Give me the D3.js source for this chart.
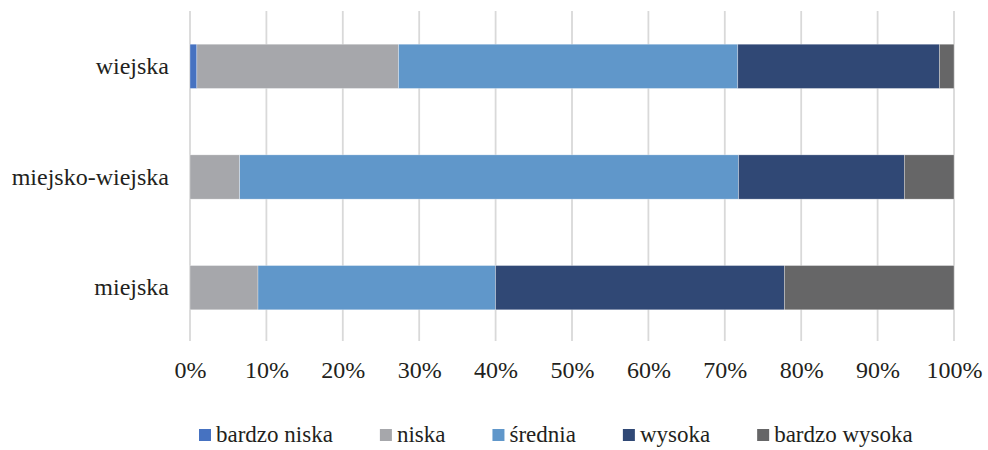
<!DOCTYPE html>
<html>
<head>
<meta charset="utf-8">
<script src="https://cdn.jsdelivr.net/npm/d3@7"></script>
<style>
  body { margin: 0; background: #fff; }
  #chart svg { display: block; font-family: "Liberation Serif", "Times New Roman", serif; }
</style>
</head>
<body>
<div id="chart"></div>
<script>
// categories, top to bottom
const categories = ["wiejska", "miejsko-wiejska", "miejska"];
const seriesNames = ["bardzo niska", "niska", "średnia", "wysoka", "bardzo wysoka"];
const colors = ["#4672C1", "#A6A7AB", "#6097CA", "#304875", "#666667"];

// shares in %, one array per series (same order as categories)
const bardzoNiska = [0.9, 0, 0];
const niska = [26.4, 6.5, 8.9];
const srednia = [44.4, 65.3, 31.1];
const wysoka = [26.4, 21.7, 37.8];
const bardzoWysoka = [1.9, 6.5, 22.2];

const tickValues = [0, 10, 20, 30, 40, 50, 60, 70, 80, 90, 100];

const width = 988;
const height = 450;
const margin = { top: 11, right: 34, bottom: 107, left: 190 };

const rows = categories.map((c, i) => ({
  category: c,
  "bardzo niska": bardzoNiska[i],
  "niska": niska[i],
  "średnia": srednia[i],
  "wysoka": wysoka[i],
  "bardzo wysoka": bardzoWysoka[i]
}));

const stacked = d3.stack().keys(seriesNames)(rows);

const svg = d3.select("#chart")
  .append("svg")
  .attr("width", width)
  .attr("height", height);

const x = d3.scaleLinear()
  .domain([0, 100])
  .range([margin.left, width - margin.right]);

const y = d3.scaleBand()
  .domain(categories)
  .range([margin.top, height - margin.bottom])
  .paddingInner(0.6)
  .paddingOuter(0.3);

const color = d3.scaleOrdinal().domain(seriesNames).range(colors);

// vertical gridlines
svg.append("g")
  .selectAll("line")
  .data(tickValues)
  .enter()
  .append("line")
  .attr("x1", d => x(d))
  .attr("x2", d => x(d))
  .attr("y1", margin.top)
  .attr("y2", height - margin.bottom - 2)
  .attr("stroke", "#d9d9d9")
  .attr("stroke-width", 1.8);

// bars
svg.append("g")
  .selectAll("g")
  .data(stacked)
  .enter()
  .append("g")
  .attr("fill", d => color(d.key))
  .selectAll("rect")
  .data(d => d)
  .enter()
  .append("rect")
  .attr("x", d => x(d[0]))
  .attr("y", d => y(d.data.category))
  .attr("width", d => Math.max(0, x(d[1]) - x(d[0])))
  .attr("height", y.bandwidth())
  .attr("stroke", "#fff")
  .attr("stroke-opacity", 0.5)
  .attr("stroke-width", 0.6);

// x axis labels
const xAxis = d3.axisBottom(x)
  .tickValues(tickValues)
  .tickFormat(d => d + "%")
  .tickSize(0)
  .tickPadding(7);

svg.append("g")
  .attr("transform", `translate(0,${height - margin.bottom + 11})`)
  .call(xAxis)
  .call(g => g.select(".domain").remove())
  .call(g => g.selectAll("text")
    .attr("font-family", "Liberation Serif, serif")
    .attr("font-size", 24)
    .attr("fill", "#231f20"));

// y axis labels
const yAxis = d3.axisLeft(y).tickSize(0).tickPadding(21);

svg.append("g")
  .attr("transform", `translate(${margin.left},0)`)
  .call(yAxis)
  .call(g => g.select(".domain").remove())
  .call(g => g.selectAll("text")
    .attr("font-family", "Liberation Serif, serif")
    .attr("font-size", 24)
    .attr("fill", "#231f20"));

// legend
const legend = svg.append("g").attr("transform", "translate(199,429)");
let lx = 0;
seriesNames.forEach((name, i) => {
  const item = legend.append("g").attr("transform", `translate(${lx},0)`);
  item.append("rect")
    .attr("width", 12)
    .attr("height", 12)
    .attr("fill", color(name));
  const t = item.append("text")
    .attr("x", 17)
    .attr("y", 13)
    .attr("font-size", 23)
    .attr("fill", "#231f20")
    .text(name);
  lx += 17 + t.node().getComputedTextLength() + 47;
});
</script>
</body>
</html>
